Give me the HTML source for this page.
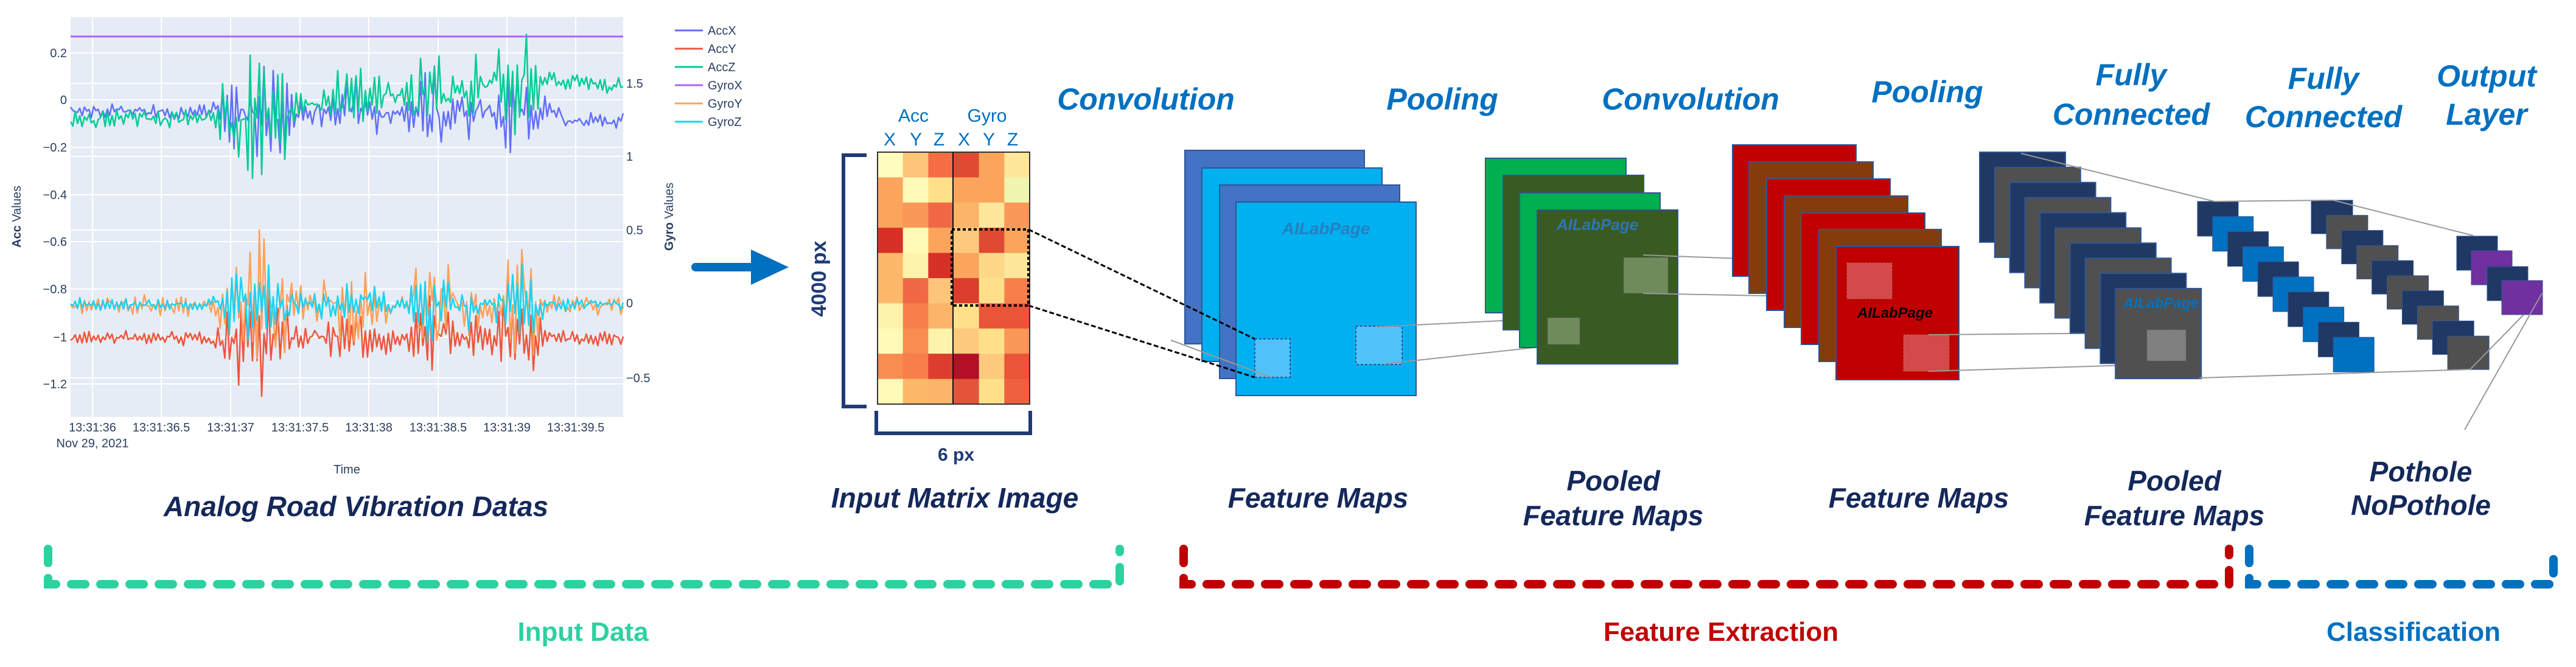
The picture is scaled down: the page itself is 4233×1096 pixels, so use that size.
<!DOCTYPE html>
<html><head><meta charset="utf-8"><style>
html,body{margin:0;padding:0;background:#fff;}
svg{display:block;}
.t{font-family:"Liberation Sans",sans-serif;}
.h{font-family:"Liberation Sans",sans-serif;font-weight:bold;font-style:italic;fill:#0070c0;font-size:50px;text-anchor:middle;}
.n{font-family:"Liberation Sans",sans-serif;font-weight:bold;font-style:italic;fill:#14285a;font-size:46px;text-anchor:middle;}
.tk{font-family:"Liberation Sans",sans-serif;font-size:20px;fill:#2a3f5f;}
</style></head><body>
<svg id="s" width="4233" height="1096" viewBox="0 0 4233 1096" xmlns="http://www.w3.org/2000/svg">
<rect width="4233" height="1096" fill="#fff"/>
<rect x="116" y="28" width="908" height="657" fill="#e5ecf6"/>
<g stroke="#fff" stroke-width="2">
<line x1="116" x2="1024" y1="87" y2="87"/><line x1="116" x2="1024" y1="164" y2="164"/><line x1="116" x2="1024" y1="242" y2="242"/><line x1="116" x2="1024" y1="320" y2="320"/><line x1="116" x2="1024" y1="397" y2="397"/><line x1="116" x2="1024" y1="475" y2="475"/><line x1="116" x2="1024" y1="554" y2="554"/><line x1="116" x2="1024" y1="631" y2="631"/>
<line x1="116" x2="1024" y1="137" y2="137"/><line x1="116" x2="1024" y1="257" y2="257"/><line x1="116" x2="1024" y1="378" y2="378"/><line x1="116" x2="1024" y1="498" y2="498"/><line x1="116" x2="1024" y1="621" y2="621"/>
<line y1="28" y2="685" x1="152" x2="152"/><line y1="28" y2="685" x1="265" x2="265"/><line y1="28" y2="685" x1="379" x2="379"/><line y1="28" y2="685" x1="493" x2="493"/><line y1="28" y2="685" x1="606" x2="606"/><line y1="28" y2="685" x1="720" x2="720"/><line y1="28" y2="685" x1="833" x2="833"/><line y1="28" y2="685" x1="946" x2="946"/>
</g>
<g id="lines"></g>
<line x1="116" x2="1024" y1="60" y2="60" stroke="#ab63fa" stroke-width="3"/>
<g class="tk" text-anchor="end">
<text x="110" y="94">0.2</text><text x="110" y="171">0</text><text x="110" y="249">−0.2</text><text x="110" y="327">−0.4</text><text x="110" y="404">−0.6</text><text x="110" y="482">−0.8</text><text x="110" y="561">−1</text><text x="110" y="638">−1.2</text>
</g>
<g class="tk">
<text x="1029" y="144">1.5</text><text x="1029" y="264">1</text><text x="1029" y="385">0.5</text><text x="1029" y="505">0</text><text x="1029" y="628">−0.5</text>
</g>
<g class="tk" text-anchor="middle">
<text x="152" y="709">13:31:36</text><text x="265" y="709">13:31:36.5</text><text x="379" y="709">13:31:37</text><text x="493" y="709">13:31:37.5</text><text x="606" y="709">13:31:38</text><text x="720" y="709">13:31:38.5</text><text x="833" y="709">13:31:39</text><text x="946" y="709">13:31:39.5</text>
<text x="152" y="735">Nov 29, 2021</text><text x="570" y="778">Time</text>
</g>
<text class="tk" transform="translate(34,356) rotate(-90)" text-anchor="middle"><tspan font-weight="bold">Acc</tspan> Values</text>
<text class="tk" transform="translate(1106,356) rotate(-90)" text-anchor="middle"><tspan font-weight="bold">Gyro</tspan> Values</text>
<g stroke-width="3">
<line x1="1109" x2="1155" y1="50" y2="50" stroke="#636efa"/><line x1="1109" x2="1155" y1="80" y2="80" stroke="#ef553b"/><line x1="1109" x2="1155" y1="110" y2="110" stroke="#00cc96"/><line x1="1109" x2="1155" y1="140" y2="140" stroke="#ab63fa"/><line x1="1109" x2="1155" y1="170" y2="170" stroke="#ffa15a"/><line x1="1109" x2="1155" y1="200" y2="200" stroke="#19d3f3"/>
</g>
<g class="tk" font-size="18">
<text x="1163" y="57">AccX</text><text x="1163" y="87">AccY</text><text x="1163" y="117">AccZ</text><text x="1163" y="147">GyroX</text><text x="1163" y="177">GyroY</text><text x="1163" y="207">GyroZ</text>
</g>
<line x1="1143" y1="439" x2="1245" y2="439" stroke="#0070c0" stroke-width="14" stroke-linecap="round"/>
<polygon points="1234,410 1296,439 1234,468" fill="#0070c0"/>
<text class="n" x="585" y="848">Analog Road Vibration Datas</text>

<g id="mat"></g>
<line x1="1566" y1="250" x2="1566" y2="664" stroke="#111" stroke-width="2"/>
<rect x="1442" y="250" width="250" height="414" fill="none" stroke="#333" stroke-width="2"/>
<rect x="1564" y="377" width="126" height="125" fill="none" stroke="#000" stroke-width="4" stroke-dasharray="5 4"/>
<path d="M1424,255 H1386 V668 H1424" fill="none" stroke="#1f3a77" stroke-width="6"/>
<path d="M1440,675 V712 H1693 V675" fill="none" stroke="#1f3a77" stroke-width="6"/>
<text class="t" transform="translate(1357,458) rotate(-90)" text-anchor="middle" font-size="34" font-weight="bold" fill="#1f3a77">4000 px</text>
<text class="t" x="1571" y="757" text-anchor="middle" font-size="30" font-weight="bold" fill="#1f3a77">6 px</text>
<g class="t" fill="#0070c0" font-size="30" text-anchor="middle">
<text x="1501" y="200">Acc</text><text x="1622" y="200">Gyro</text>
<text x="1462" y="239">X</text><text x="1505" y="239">Y</text><text x="1543" y="239">Z</text><text x="1584" y="239">X</text><text x="1625" y="239">Y</text><text x="1664" y="239">Z</text>
</g>
<text class="n" x="1569" y="834">Input Matrix Image</text>

<g stroke="#2f5597" stroke-width="2">
<rect x="1947" y="247" width="295" height="318" fill="#4472c4"/>
<rect x="1975" y="276" width="296" height="318" fill="#00b0f0"/>
<rect x="2004" y="304" width="296" height="318" fill="#4472c4"/>
<rect x="2031" y="332" width="296" height="318" fill="#00b0f0"/>
</g>
<text class="t" x="2179" y="385" font-size="28" font-style="italic" font-weight="bold" fill="#2e75b6" text-anchor="middle" opacity="0.8">AILabPage</text>
<rect x="2062" y="557" width="58" height="63" fill="#4fc3f7" stroke="#2f5597" stroke-dasharray="4 3" stroke-width="2"/>
<rect x="2228" y="536" width="76" height="63" fill="#4fc3f7" stroke="#2f5597" stroke-dasharray="4 3" stroke-width="2"/>
<g stroke="#000" stroke-width="3" stroke-dasharray="8 4">
<line x1="1690" y1="377" x2="2062" y2="557"/><line x1="1690" y1="502" x2="2062" y2="620"/>
</g>
<g stroke="#999" stroke-width="2" fill="none">
<line x1="1924" y1="559" x2="2089" y2="620"/>
<line x1="2263" y1="537" x2="2548" y2="523"/><line x1="2273" y1="598" x2="2569" y2="566"/>
</g>
<text class="h" x="1883" y="180">Convolution</text>
<text class="h" x="2370" y="180">Pooling</text>
<text class="n" x="2166" y="834">Feature Maps</text>

<g stroke="#2f5597" stroke-width="2">
<rect x="2441" y="260" width="231" height="254" fill="#00b050"/>
<rect x="2470" y="288" width="231" height="254" fill="#3a5a24"/>
<rect x="2497" y="317" width="231" height="254" fill="#00b050"/>
<rect x="2526" y="345" width="231" height="253" fill="#3a5a24"/>
</g>
<text class="t" x="2625" y="378" font-size="26" font-style="italic" font-weight="bold" fill="#2e75b6" text-anchor="middle">AILabPage</text>
<rect x="2543" y="522" width="53" height="44" fill="#6f8b5c" stroke="#555" stroke-dasharray="3 3"/>
<rect x="2668" y="423" width="73" height="59" fill="#6f8b5c" stroke="#555" stroke-dasharray="3 3"/>
<g stroke="#999" stroke-width="2">
<line x1="2700" y1="419" x2="3072" y2="433"/><line x1="2700" y1="482" x2="3042" y2="489"/>
</g>
<text class="h" x="2778" y="180">Convolution</text>
<text class="n" x="2651" y="806">Pooled</text>
<text class="n" x="2651" y="863">Feature Maps</text>

<g stroke="#2f5597" stroke-width="2">
<rect x="2847" y="238" width="203" height="216" fill="#c00000"/>
<rect x="2874" y="266" width="204" height="216" fill="#843c0c"/>
<rect x="2903" y="294" width="203" height="216" fill="#c00000"/>
<rect x="2932" y="322" width="203" height="216" fill="#843c0c"/>
<rect x="2960" y="350" width="203" height="216" fill="#c00000"/>
<rect x="2989" y="377" width="201" height="217" fill="#843c0c"/>
<rect x="3017" y="405" width="202" height="219" fill="#c00000"/>
</g>
<rect x="3035" y="432" width="74" height="59" fill="#d44a4a" stroke="#a66" stroke-dasharray="3 3"/>
<rect x="3128" y="550" width="75" height="60" fill="#d44a4a" stroke="#a66" stroke-dasharray="3 3"/>
<text class="t" x="3114" y="522" font-size="24" font-style="italic" font-weight="bold" fill="#000" text-anchor="middle">AILabPage</text>
<g stroke="#999" stroke-width="2">
<line x1="3169" y1="550" x2="3526" y2="547"/><line x1="3169" y1="610" x2="3565" y2="598"/>
</g>
<text class="h" x="3167" y="168">Pooling</text>
<text class="n" x="3153" y="834">Feature Maps</text>

<g id="stk"></g>
<g stroke="#999" stroke-width="2" fill="none">
<line x1="3321" y1="252" x2="3639" y2="331"/><line x1="3639" y1="331" x2="3834" y2="329"/><line x1="3834" y1="329" x2="4064" y2="387"/>
<line x1="3614" y1="621" x2="4059" y2="607"/><line x1="4059" y1="607" x2="4147" y2="517"/><line x1="4177" y1="482" x2="4050" y2="706"/>
</g>
<text class="h" x="3502" y="140">Fully</text><text class="h" x="3502" y="205">Connected</text>
<text class="h" x="3818" y="146">Fully</text><text class="h" x="3818" y="209">Connected</text>
<text class="h" x="4086" y="142">Output</text><text class="h" x="4086" y="205">Layer</text>
<text class="n" x="3573" y="806">Pooled</text><text class="n" x="3573" y="863">Feature Maps</text>
<text class="n" x="3978" y="791" text-anchor="start">Pothole</text><text class="n" x="3978" y="846" text-anchor="start">NoPothole</text>

<g fill="none" stroke-width="14" stroke-linecap="round" stroke-dasharray="23 25">
<path d="M79,902 V960 H1840 V902" stroke="#2dd1a0"/>
<path d="M1945,902 V960 H3663 V902" stroke="#c00000"/>
<path d="M3696,902 V960 H4196 V902" stroke="#0070c0"/>
</g>
<g class="t" font-size="44" font-weight="bold" text-anchor="middle">
<text x="958" y="1053" fill="#2dd1a0">Input Data</text>
<text x="2828" y="1053" fill="#c00000">Feature Extraction</text>
<text x="3966" y="1053" fill="#0070c0">Classification</text>
</g>
</svg>
<script>
(function(){
var NS="http://www.w3.org/2000/svg";
function el(p,n,a){var e=document.createElementNS(NS,n);for(var k in a)e.setAttribute(k,a[k]);p.appendChild(e);return e;}
var C=[["#fefdbd","#fdc57a","#f46d43","#e04a32","#fba55c","#fee69a"],
["#fba55c","#fefbb8","#fee08b","#fba55c","#fba55c","#f0f5b0"],
["#fba55c","#f99858","#f06944","#fbb468","#fee79a","#f99858"],
["#d73027","#fefbb8","#fba55c","#fdc97d","#e04a32","#fba55c"],
["#fdb869","#fef3ab","#d73027","#fba55c","#fdd889","#fee79a"],
["#fdb869","#f06944","#fdc57a","#dc3d2d","#fee08b","#f67f4b"],
["#fef3ab","#f67f4b","#fbb468","#fee08b","#ea5439","#ea5439"],
["#fefbb8","#f88c51","#fef3ab","#fdc97d","#fee08b","#f99858"],
["#f88c51","#f67f4b","#dc3d2d","#b40f26","#fdc97d","#ea5439"],
["#fefbb8","#fdb869","#fbb468","#e5533a","#fee08b","#ee613e"]];
var m=document.getElementById("mat");
for(var r=0;r<10;r++)for(var c=0;c<6;c++)el(m,"rect",{x:1442+c*250/6,y:250+r*41.4,width:250/6+0.5,height:41.9,fill:C[r][c]});
var s=document.getElementById("stk");
for(var i=0;i<10;i++)el(s,"rect",{x:3253+i*24.8,y:250+i*24.9,width:141,height:148,fill:i%2?"#505050":"#203864",stroke:"#2f5597","stroke-width":2});
el(s,"rect",{x:3528,y:542,width:64,height:51,fill:"#808080",stroke:"#666","stroke-dasharray":"3 3"});
var tx=el(s,"text",{x:3551,y:506,"font-size":24,"font-style":"italic","font-weight":"bold",fill:"#0070c0","text-anchor":"middle","font-family":"Liberation Sans, sans-serif"});tx.textContent="AILabPage";
for(i=0;i<10;i++)el(s,"rect",{x:3611+i*24.8,y:331+i*24.8,width:67,height:57,fill:i%2?"#0070c0":"#203864",stroke:"#2f5597","stroke-width":1});
for(i=0;i<10;i++)el(s,"rect",{x:3798+i*24.9,y:329+i*24.8,width:68,height:55,fill:i%2?"#505050":"#203864",stroke:"#2f5597","stroke-width":1});
var O=[[4037,388,"#203864"],[4061,412,"#7030a0"],[4087,438,"#203864"],[4111,461,"#7030a0"]];
O.forEach(function(o){el(s,"rect",{x:o[0],y:o[1],width:67,height:56,fill:o[2],stroke:"#2f5597","stroke-width":1});});
var seed=7;function rnd(){seed=(seed*16807)%2147483647;return seed/2147483647;}
function env(t){var e=1,B=[[0.85,1.55,6],[1.55,2.2,3],[2.25,2.65,5],[2.65,2.85,3],[2.85,3.3,5.5]];
B.forEach(function(b){if(t>=b[0]&&t<=b[1])e=Math.max(e,b[2]*Math.sin(Math.PI*(t-b[0])/(b[1]-b[0]))+1);});return e;}
var g=document.getElementById("lines");
function line(col,base,amp,bias,w){var pts=[];var N=240;for(var k=0;k<=N;k++){var x=116+908*k/N;var t=(x-152)/227;var e=env(t);
var v=base(t)+(k%2?1:-1)*amp*e*(0.3+rnd())+ (rnd()-0.5)*amp*e*bias;pts.push(x.toFixed(1)+","+v.toFixed(1));}
el(g,"polyline",{points:pts.join(" "),fill:"none",stroke:col,"stroke-width":w||2.5,"stroke-linejoin":"round"});}
line("#ef553b",function(t){return 556;},6,2);
line("#ffa15a",function(t){return 503;},7,3,2.5);
line("#19d3f3",function(t){return 500;},5,2);
line("#636efa",function(t){return t<3.4?183:199;},6,2.5);
line("#00cc96",function(t){return t<0.8?196:(t<3.2?196-(t-0.8)*28:128+(t-3.2)*18);},7,2.5);
})();
</script>
</body></html>
